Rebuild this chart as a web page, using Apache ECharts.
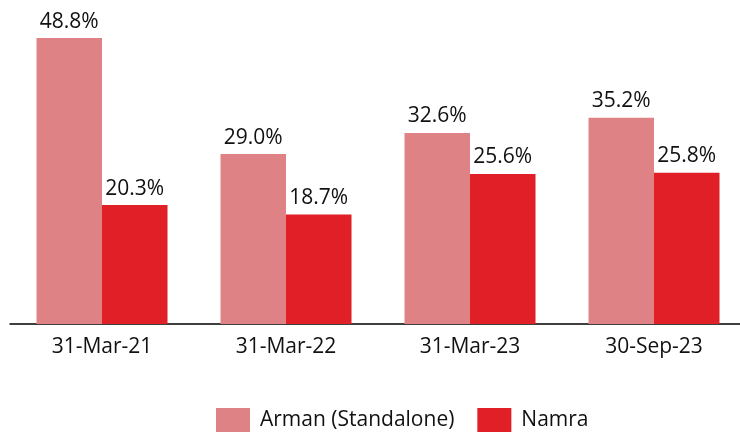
<!DOCTYPE html>
<html><head><meta charset="utf-8">
<script src="https://cdn.jsdelivr.net/npm/echarts@6/dist/echarts.min.js"></script>
<style>html,body{margin:0;padding:0;background:#fff}#c{width:740px;height:433px}</style>
</head><body><div id="c"></div>
<script>
const categories = ['31-Mar-21', '31-Mar-22', '31-Mar-23', '30-Sep-23'];
const armanValues = [48.8, 29.0, 32.6, 35.2];
const namraValues = [20.3, 18.7, 25.6, 25.8];
const seriesNames = ['Arman (Standalone)', 'Namra'];

const FONT = 'Open Sans';
const chart = echarts.init(document.getElementById('c'));
const lbl = {
  show: true, position: 'top', distance: 6,
  formatter: p => p.value.toFixed(1) + '%',
  color: '#111', fontFamily: FONT, fontSize: 21
};
chart.setOption({
  animation: false,
  textStyle: { fontFamily: FONT },
  grid: { left: 10, right: -6, top: 31, bottom: 109, outerBoundsMode: 'none', containLabel: false },
  legend: {
    left: 216, top: 408, padding: 0, itemWidth: 34, itemHeight: 24, itemGap: 23,
    icon: 'rect',
    textStyle: { fontFamily: FONT, fontSize: 21, color: '#111', padding: [0, 0, 0, 5] },
    data: seriesNames
  },
  xAxis: {
    type: 'category', data: categories,
    axisLine: { lineStyle: { color: '#000', width: 1.5 } },
    axisTick: { show: false },
    axisLabel: { color: '#111', fontFamily: FONT, fontSize: 21, margin: 13 }
  },
  yAxis: {
    type: 'value', min: 0, max: 50, show: false, splitLine: { show: false }
  },
  series: [
    { name: seriesNames[0], type: 'bar', data: armanValues, barWidth: 65.5, barGap: '0%',
      itemStyle: { color: '#DF8285' }, label: lbl },
    { name: seriesNames[1], type: 'bar', data: namraValues, barWidth: 65.5, barGap: '0%',
      itemStyle: { color: '#E01F26' }, label: lbl }
  ]
});
</script></body></html>
